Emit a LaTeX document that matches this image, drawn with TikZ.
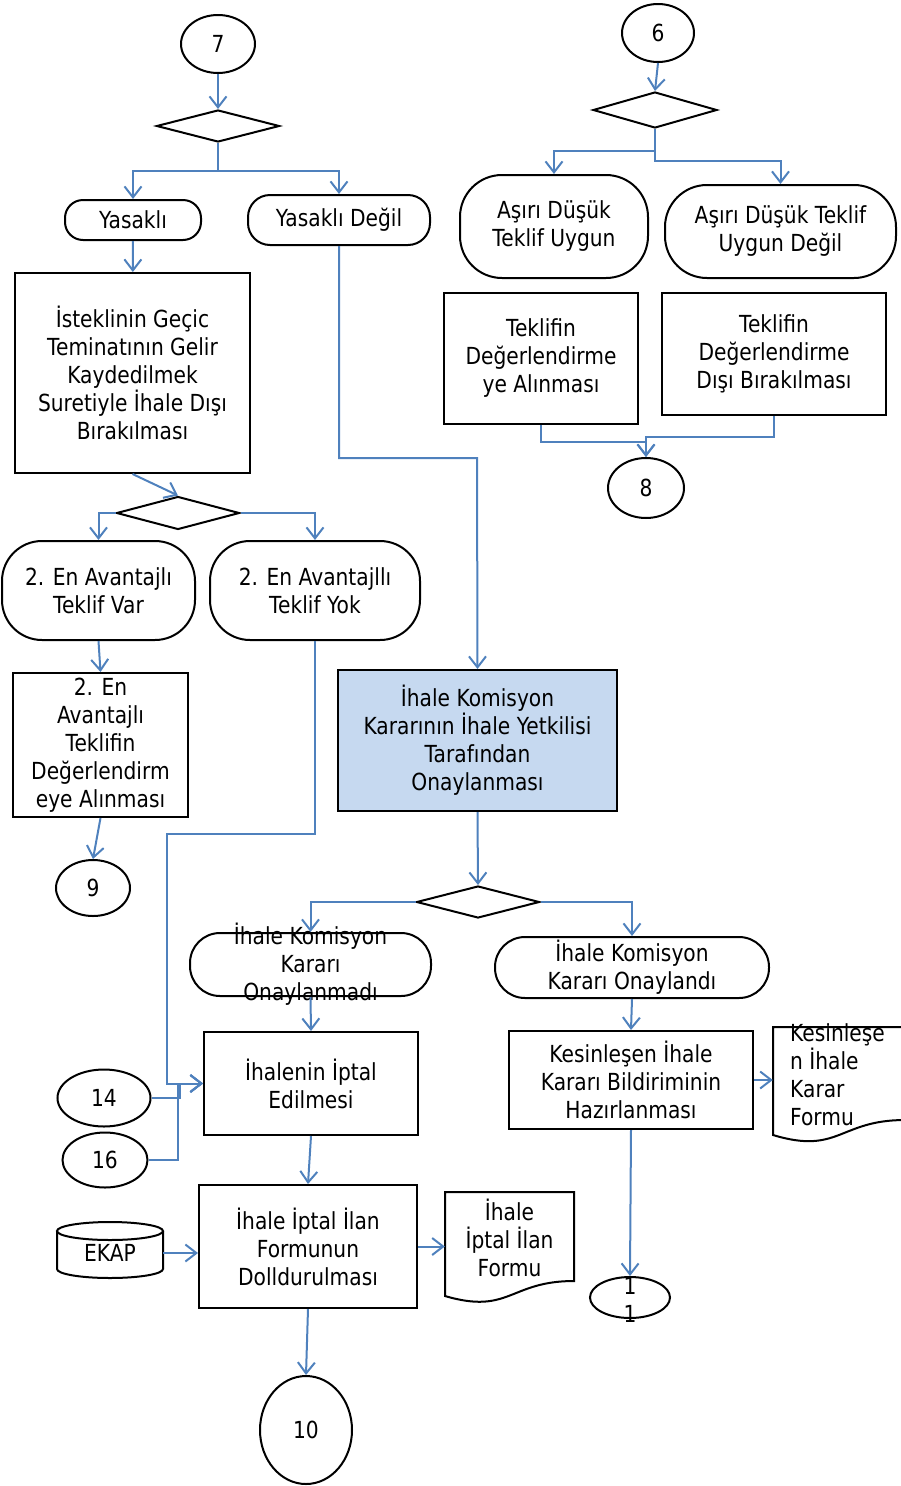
\documentclass[tikz,border=0pt]{standalone}
\usepackage{fontspec}
\setmainfont{DejaVu Sans}[FakeStretch=0.86]
\usetikzlibrary{arrows.meta, shapes.geometric}
\definecolor{flowblue}{RGB}{79,129,189}
\definecolor{onayblue}{RGB}{198,217,240}

\begin{document}
\begin{tikzpicture}[x=1pt, y=-1pt, font=\fontsize{23.5}{28}\selectfont]
      % Styles
      \tikzset{conn/.style={draw, ellipse, line width=2pt, inner sep=0pt}}
      \tikzset{term/.style={draw, rectangle, line width=2pt, align=center, inner sep=0pt}}
      \tikzset{proc/.style={draw, rectangle, line width=2pt, align=center, inner sep=0pt}}
      \tikzset{dec/.style={draw, diamond, line width=2pt, inner sep=0pt, aspect=4}}
      \tikzset{flow/.style={draw=flowblue, line width=2pt, -{Straight Barb[length=11pt, width=17pt]}}}

      \useasboundingbox (0,0) rectangle (901,1486);

      % --- Left column: 7 ---
      \node[conn, minimum width=74, minimum height=58] (c7) at (218,44) {7};
      \node[dec, minimum width=123, minimum height=32] (d1) at (218,126) {};
      \node[term, minimum width=136, minimum height=40, rounded corners=18] (yas) at (133,220) {Yasaklı};
      \node[term, minimum width=182, minimum height=50, rounded corners=22] (ydeg) at (339,220) {Yasaklı Değil};
      \node[proc, minimum width=235, minimum height=200] (ist) at (132.5,373) {İsteklinin Geçic\\Teminatının Gelir\\Kaydedilmek\\Suretiyle İhale Dışı\\Bırakılması};
      \node[dec, minimum width=123, minimum height=33] (d2) at (178,513) {};
      \node[term, minimum width=193, minimum height=99, rounded corners=40] (var) at (98.5,590.5) {2. En Avantajlı\\Teklif Var};
      \node[term, minimum width=210, minimum height=99, rounded corners=40] (yok) at (315,590.5) {2. En Avantajllı\\Teklif Yok};
      \node[proc, minimum width=175, minimum height=144] (varbox) at (100.5,745) {2. En\\Avantajlı\\Teklifin\\Değerlendirm\\eye Alınması};
      \node[conn, minimum width=74, minimum height=56] (c9) at (93,888) {9};

      % --- Right column: 6 ---
      \node[conn, minimum width=72, minimum height=58] (c6) at (658,33) {6};
      \node[dec, minimum width=124, minimum height=36] (d3) at (655,110) {};
      \node[term, minimum width=188, minimum height=103, rounded corners=42] (uyg) at (554,226.5) {Aşırı Düşük\\Teklif Uygun};
      \node[term, minimum width=231, minimum height=93, rounded corners=42] (uygd) at (780.5,231.5) {Aşırı Düşük Teklif\\Uygun Değil};
      \node[proc, minimum width=194, minimum height=131] (tdeg) at (541,358.5) {Teklifin\\Değerlendirme\\ye Alınması};
      \node[proc, minimum width=224, minimum height=122] (tdis) at (774,354) {Teklifin\\Değerlendirme\\Dışı Bırakılması};
      \node[conn, minimum width=76, minimum height=60] (c8) at (646,488) {8};

      % --- Approval ---
      \node[proc, fill=onayblue, minimum width=279, minimum height=141] (onay) at (477.5,740.5) {İhale Komisyon\\Kararının İhale Yetkilisi\\Tarafından\\Onaylanması};
      \node[dec, minimum width=123, minimum height=32] (d4) at (478,902) {};
      \node[term, minimum width=241, minimum height=63, rounded corners=30] (onmadi) at (310.5,964.5) {};
      \node[align=center] (onmaditxt) at (onmadi) {İhale Komisyon\\Kararı\\Onaylanmadı};
      \node[term, minimum width=274, minimum height=61, rounded corners=30] (ondi) at (632,967.5) {İhale Komisyon\\Kararı Onaylandı};
      \node[proc, minimum width=214, minimum height=103] (iptal) at (311,1083.5) {İhalenin İptal\\Edilmesi};
      \node[proc, minimum width=244, minimum height=98] (kesin) at (631,1080) {Kesinleşen İhale\\Kararı Bildiriminin\\Hazırlanması};
      \node[minimum width=132, minimum height=93, inner sep=0pt] (kform) at (839,1073) {};
      \draw[line width=2pt] (773,1027) -- (905,1027) -- (905,1120) .. controls (839,1120) and (839,1155) .. (773,1135) -- cycle;
      \node[align=left, anchor=west, inner sep=0pt] (kformtxt) at (790,1075) {Kesinleşe\\n İhale\\Karar\\Formu};
      \node[conn, minimum width=80, minimum height=41] (c11) at (630,1297.5) {};
      \node[align=center] (c11txt) at (630,1300) {1\\1};

      % --- Cancel ---
      \node[conn, minimum width=93, minimum height=57] (c14) at (104,1098) {14};
      \node[conn, minimum width=85, minimum height=55] (c16) at (105,1160) {16};
      \node[proc, minimum width=218, minimum height=123] (ilan) at (308,1246.5) {İhale İptal İlan\\Formunun\\Dolldurulması};
      \node[minimum width=106, minimum height=56, inner sep=0pt] (ekap) at (110,1253) {EKAP};
      \draw[line width=2pt] (110,1231) ellipse [x radius=53, y radius=9];
      \draw[line width=2pt] (57,1231) -- (57,1269) arc[start angle=180, end angle=0, x radius=53, y radius=9] -- (163,1231);
      \node[align=center, minimum width=129, minimum height=90, inner sep=0pt] (iform) at (509.5,1238) {İhale\\İptal İlan\\Formu};
      \draw[line width=2pt] (445,1192) -- (574,1192) -- (574,1281) .. controls (509.5,1281) and (509.5,1315) .. (445,1296) -- cycle;
      \node[conn, minimum width=92, minimum height=108] (c10) at (306,1430) {10};

      % --- Connectors ---
      \draw[flow] (c7) -- (d1.north);
      \draw[flow] (d1.south) -- ++(0,28) coordinate (j1) -| (yas.north);
      \draw[flow] (j1) -| (ydeg.north);
      \draw[flow] (yas) -- (ist);
      \draw[flow] (ist.south) -- (d2.north);
      \draw[flow] (d2.west) -| (var.north);
      \draw[flow] (d2.east) -| (yok.north);
      \draw[flow] (var.south) -- (varbox.north);
      \draw[flow] (varbox.south) -- (c9.north);

      \draw[flow] (c6.south) -- (d3.north);
      \draw[flow] (d3.south) -- ++(0,22) -| (uyg.north);
      \draw[flow] (d3.south) -- ++(0,32) -| (uygd.north);
      \draw[flow] (tdeg.south) -- ++(0,17) -| (c8.north);
      \draw[flow] (tdis.south) -- ++(0,21) -| (c8.north);

      \coordinate (j2) at (477,458);
      \draw[flow] (ydeg.south) |- (j2) -- (onay.north);
      \draw[flow] (onay.south) -- (d4.north);
      \draw[flow] (d4.west) -| (onmadi.north);
      \draw[flow] (d4.east) -| (ondi.north);
      \draw[flow] (onmadi.south) -- (iptal.north);
      \draw[flow] (ondi.south) -- (kesin.north);
      \draw[flow] (kesin.east) -- (kesin.east -| kform.west);
      \draw[flow] (kesin.south) -- (c11.north);

      \coordinate (b1) at (167,834);
      \draw[flow] (yok.south) |- (b1) |- (iptal.west);
      \draw[flow] (c14.east) -- ++(28,0) |- (iptal.west);
      \draw[flow] (c16.east) -- ++(29,0) |- (iptal.west);
      \draw[flow] (iptal.south) -- (ilan.north);
      \draw[flow] (ekap.east) -- (ekap.east -| ilan.west);
      \draw[flow] (ilan.east) -- (ilan.east -| iform.west);
      \draw[flow] (ilan.south) -- (c10.north);

    \end{tikzpicture}
\end{document}
